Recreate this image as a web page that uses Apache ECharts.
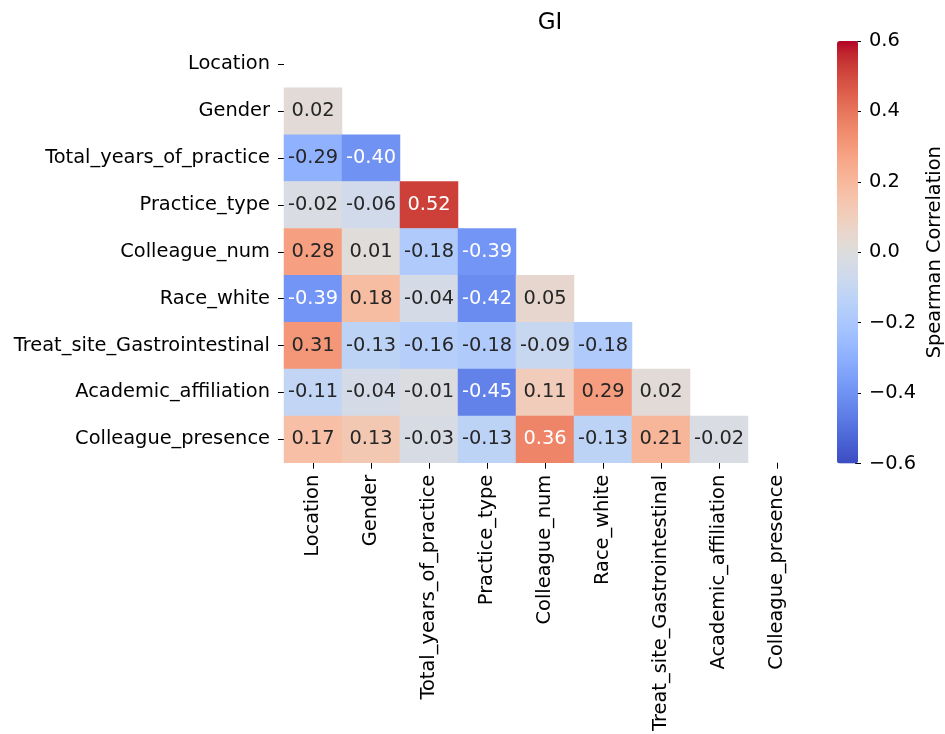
<!DOCTYPE html>
<html>
<head>
<meta charset="utf-8">
<script src="https://cdn.jsdelivr.net/npm/echarts@6/dist/echarts.min.js"></script>
<style>
html,body{margin:0;padding:0;background:#fff;}
#chart{width:945px;height:734px;}
</style>
</head>
<body>
<div id="chart"></div>
<script>
// Variable labels (rows and columns)
const labels = ["Location","Gender","Total_years_of_practice","Practice_type","Colleague_num","Race_white","Treat_site_Gastrointestinal","Academic_affiliation","Colleague_presence"];

// Lower-triangle Spearman correlations (row i, columns 0..i-1)
const row_Gender = [0.02];
const row_TotalYears = [-0.29, -0.40];
const row_PracticeType = [-0.02, -0.06, 0.52];
const row_ColleagueNum = [0.28, 0.01, -0.18, -0.39];
const row_RaceWhite = [-0.39, 0.18, -0.04, -0.42, 0.05];
const row_TreatSite = [0.31, -0.13, -0.16, -0.18, -0.09, -0.18];
const row_Academic = [-0.11, -0.04, -0.01, -0.45, 0.11, 0.29, 0.02];
const row_ColleaguePresence = [0.17, 0.13, -0.03, -0.13, 0.36, -0.13, 0.21, -0.02];

const lowerRows = [row_Gender, row_TotalYears, row_PracticeType, row_ColleagueNum, row_RaceWhite, row_TreatSite, row_Academic, row_ColleaguePresence];

// Colorbar range and ticks
const cbMin = -0.6, cbMax = 0.6, cbStep = 0.2;

// coolwarm colormap stops
const coolwarm = [
 [59,76,192],[68,90,204],[77,104,215],[87,117,225],[98,130,234],[108,142,241],[119,154,247],[130,165,251],
 [141,176,254],[152,185,255],[163,194,255],[174,201,253],[184,208,249],[194,213,244],[204,217,238],[213,219,230],
 [221,221,221],[229,216,209],[236,211,197],[241,204,185],[245,196,173],[247,187,160],[247,177,148],[247,166,135],
 [244,154,123],[241,141,111],[236,127,99],[229,112,88],[222,96,77],[213,80,66],[203,62,56],[192,40,47],[180,4,38]
].map(c => 'rgb(' + c.join(',') + ')');

const data = [];
lowerRows.forEach((row, r) => {
  const yi = r + 1;
  row.forEach((v, xi) => {
    data.push({
      value: [xi, yi, v],
      label: { color: Math.abs(v) >= 0.35 ? '#ffffff' : '#262626' }
    });
  });
});

const FONT = 'DejaVu Sans';
const FS = 19.4;

const chart = echarts.init(document.getElementById('chart'), null, {renderer: 'canvas'});
chart.setOption({
  animation: false,
  backgroundColor: '#fff',
  textStyle: { fontFamily: FONT },
  title: {
    text: 'GI',
    left: 545,
    top: 7,
    textAlign: 'center',
    textStyle: { fontFamily: FONT, fontSize: 23, fontWeight: 'normal', color: '#000' }
  },
  grid: [
    { left: 284, top: 41, width: 522, height: 422.5 },
    { left: 837, top: 41, width: 21, height: 422.5 }
  ],
  xAxis: [
    {
      type: 'category', gridIndex: 0, data: labels,
      axisLine: { show: false },
      axisTick: { show: true, alignWithLabel: true, length: 6, lineStyle: { color: '#000' } },
      axisLabel: { rotate: 90, interval: 0, fontSize: FS, color: '#000', fontFamily: FONT, margin: 12 },
      splitLine: { show: false }
    },
    { type: 'category', gridIndex: 1, data: ['cb'], show: false }
  ],
  yAxis: [
    {
      type: 'category', gridIndex: 0, data: labels, inverse: true,
      axisLine: { show: false },
      axisTick: { show: true, alignWithLabel: true, length: 6, lineStyle: { color: '#000' } },
      axisLabel: { interval: 0, fontSize: FS, color: '#000', fontFamily: FONT, margin: 14 },
      splitLine: { show: false }
    },
    {
      type: 'value', gridIndex: 1, position: 'right',
      min: cbMin, max: cbMax, interval: cbStep,
      axisLine: { show: false },
      axisTick: { show: true, length: 6, lineStyle: { color: '#000' } },
      axisLabel: {
        fontSize: FS, color: '#000', fontFamily: FONT, margin: 14,
        formatter: v => (v < -1e-9 ? '\u2212' + Math.abs(v).toFixed(1) : Math.abs(v).toFixed(1))
      },
      splitLine: { show: false },
      name: 'Spearman Correlation',
      nameLocation: 'middle',
      nameRotate: 90,
      nameGap: 70,
      nameTextStyle: { fontSize: FS, color: '#000', fontFamily: FONT }
    }
  ],
  visualMap: {
    type: 'continuous',
    min: cbMin, max: cbMax,
    seriesIndex: 0,
    calculable: false,
    realtime: false,
    left: 837, top: 41,
    itemWidth: 21, itemHeight: 422.5,
    padding: 0,
    text: null,
    showLabel: false,
    inRange: { color: coolwarm }
  },
  series: [
    {
      type: 'heatmap',
      xAxisIndex: 0, yAxisIndex: 0,
      data: data,
      label: {
        show: true, fontSize: FS, fontFamily: FONT,
        formatter: p => p.value[2].toFixed(2)
      },
      itemStyle: { borderWidth: 0 },
      emphasis: { disabled: true }
    }
  ]
});
</script>
</body>
</html>
